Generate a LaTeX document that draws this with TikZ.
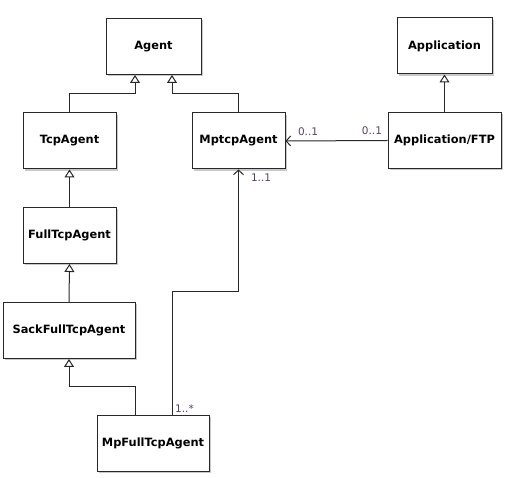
\documentclass[tikz,border=0pt]{standalone}
\usepackage{fontspec}
\setmainfont{DejaVu Sans}
\usetikzlibrary{arrows.meta,shadows}
\definecolor{linegray}{RGB}{40,40,40}
\definecolor{multcol}{RGB}{88,66,104}
\begin{document}
\begin{tikzpicture}[x=1pt,y=-1pt,
  cls/.style={draw=linegray,line width=1pt,fill=white,minimum height=56pt,
    font=\fontsize{11.4}{13}\selectfont\bfseries,
    drop shadow={shadow xshift=1.8pt,shadow yshift=-1.8pt,fill=black!30,opacity=0.7}},
  gen/.style={draw=linegray,line width=1pt,-{Triangle[open,length=8pt,width=10pt]}},
  assoc/.style={draw=linegray,line width=1pt,-{Straight Barb[length=4.5pt,width=10pt]}},
  mult/.style={text=multcol,font=\fontsize{10.5}{12}\selectfont,inner sep=1pt}]
\useasboundingbox (0,0) rectangle (512,478);

\node[cls,minimum width=95pt] (agent) at (153.5,46.5) {Agent};
\node[cls,minimum width=95pt] (app) at (444.5,46) {Application};
\node[cls,minimum width=93pt] (tcp) at (69.5,141) {TcpAgent};
\node[cls,minimum width=93pt] (mptcp) at (238.5,141) {MptcpAgent};
\node[cls,minimum width=113pt] (ftp) at (444.5,140.5) {Application/FTP};
\node[cls,minimum width=93pt] (full) at (69.5,235.5) {FullTcpAgent};
\node[cls,minimum width=132pt] (sack) at (69,330.5) {SackFullTcpAgent};
\node[cls,minimum width=112pt] (mpfull) at (153,443.5) {MpFullTcpAgent};

\draw[gen] (tcp.north) -- ++(0,-19) -| ([xshift=-18.5pt]agent.south);
\draw[gen] (mptcp.north) -- ++(0,-19) -| ([xshift=18.5pt]agent.south);
\draw[gen] (ftp.north) -- (app.south);
\draw[gen] (full.north) -- (tcp.south);
\draw[gen] (sack.north) -- (full.south);
\draw[gen] ([xshift=-18pt]mpfull.north) -- ++(0,-28) -| (sack.south);

\draw[assoc] (ftp.west) -- (mptcp.east)
  node[mult,at start,anchor=south east,xshift=-4pt,yshift=4pt] {0..1}
  node[mult,at end,anchor=south west,xshift=11pt,yshift=4pt] {0..1};
\draw[assoc] ([xshift=19pt]mpfull.north) -- ++(0,-123) -| (mptcp.south)
  node[mult,at end,anchor=north west,xshift=11pt,yshift=-3pt] {1..1};
\node[mult,anchor=south west] (many) at ([xshift=21pt,yshift=1pt]mpfull.north) {1..*};
\end{tikzpicture}
\end{document}
